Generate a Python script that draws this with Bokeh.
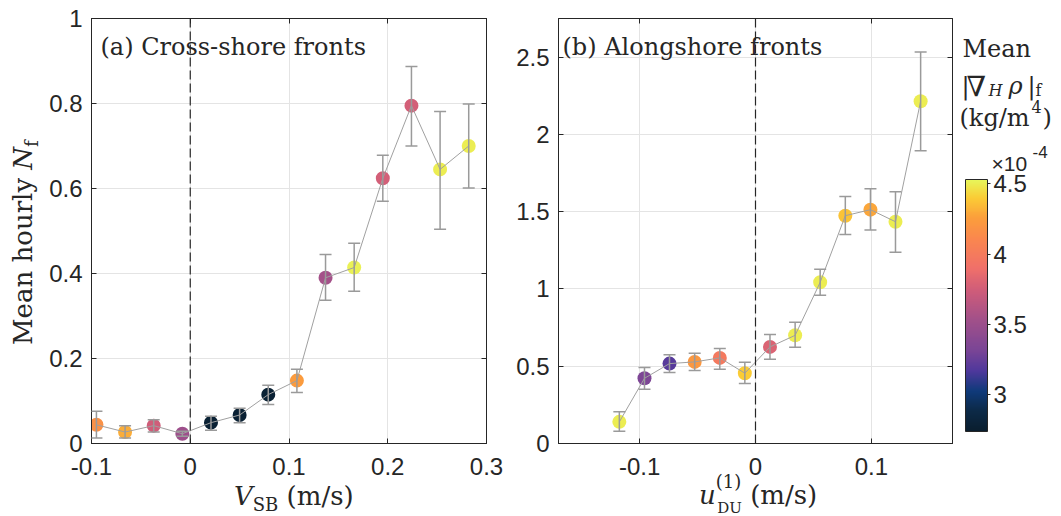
import numpy as np
from bokeh.plotting import figure
from bokeh.layouts import row
from bokeh.models import (ColumnDataSource, LinearColorMapper, Whisker, TeeHead, Span,
                          Label, LinearAxis, FixedTicker, ColorBar, Range1d, Div)
from bokeh.embed import file_html
from bokeh.resources import INLINE

# ---------------- data ----------------
# (a) cross-shore fronts, binned by V_SB (m/s)
vsb = [-0.095, -0.066, -0.037, -0.008, 0.021, 0.050, 0.079, 0.108, 0.137, 0.166, 0.195, 0.224, 0.253, 0.282]
nf_cross = [0.044, 0.027, 0.042, 0.023, 0.049, 0.067, 0.115, 0.148, 0.390, 0.414, 0.624, 0.795, 0.645, 0.700]
nf_cross_lo = [0.013, 0.013, 0.027, 0.017, 0.031, 0.049, 0.092, 0.120, 0.337, 0.358, 0.570, 0.700, 0.504, 0.601]
nf_cross_hi = [0.076, 0.042, 0.056, 0.029, 0.064, 0.083, 0.137, 0.175, 0.445, 0.471, 0.678, 0.887, 0.781, 0.799]
grad_cross = [4.17, 4.30, 3.74, 3.51, 2.78, 2.78, 2.78, 4.23, 3.55, 4.51, 3.76, 3.76, 4.50, 4.50]  # x1e-4 kg/m^4

# (b) alongshore fronts, binned by u_DU^(1) (m/s)
udu = [-0.1175, -0.0958, -0.0742, -0.0525, -0.0308, -0.0092, 0.0125, 0.0342, 0.0558, 0.0775, 0.0992, 0.1208, 0.1425]
nf_along = [0.140, 0.422, 0.517, 0.528, 0.554, 0.455, 0.625, 0.700, 1.043, 1.474, 1.513, 1.435, 2.215]
nf_along_lo = [0.080, 0.351, 0.459, 0.472, 0.480, 0.388, 0.545, 0.623, 0.959, 1.353, 1.381, 1.237, 1.894]
nf_along_hi = [0.205, 0.491, 0.575, 0.584, 0.614, 0.526, 0.705, 0.784, 1.127, 1.599, 1.648, 1.629, 2.534]
grad_along = [4.50, 3.33, 3.20, 4.21, 3.99, 4.40, 3.80, 4.50, 4.50, 4.37, 4.28, 4.50, 4.50]

xticks_a = [-0.1, 0, 0.1, 0.2, 0.3]
xtick_labels_a = ["-0.1", "0", "0.1", "0.2", "0.3"]
yticks_a = [0, 0.2, 0.4, 0.6, 0.8, 1]
ytick_labels_a = ["0", "0.2", "0.4", "0.6", "0.8", "1"]
xticks_b = [-0.1, 0, 0.1]
xtick_labels_b = ["-0.1", "0", "0.1"]
yticks_b = [0, 0.5, 1, 1.5, 2, 2.5]
ytick_labels_b = ["0", "0.5", "1", "1.5", "2", "2.5"]
cbar_ticks = [3, 3.5, 4, 4.5]
cbar_tick_labels = ["3", "3.5", "4", "4.5"]
cbar_low, cbar_high = 2.74, 4.53

# ---------------- styling ----------------
INK = "#262626"
SERIF = "DejaVu Serif"
SANS = "Liberation Sans"
TICK_PX = "24px"

# thermal-like colormap
anchors = [(0.00, "#0a1e2e"), (0.08, "#0c2a48"), (0.16, "#0f3a7a"), (0.24, "#4f389c"),
           (0.32, "#7a4596"), (0.44, "#a0508a"), (0.55, "#cc5b7b"), (0.65, "#f0706a"),
           (0.76, "#fa8650"), (0.85, "#fb9f3b"), (0.93, "#fbcc35"), (1.00, "#e8f65a")]
at = np.array([a[0] for a in anchors])
argb = np.array([[int(h[i:i + 2], 16) for i in (1, 3, 5)] for _, h in anchors], dtype=float)
tt = np.linspace(0, 1, 256)
palette = ["#%02x%02x%02x" % tuple(int(round(np.interp(t, at, argb[:, k]))) for k in range(3)) for t in tt]
mapper = LinearColorMapper(palette=palette, low=cbar_low, high=cbar_high)

H = 516
TOP, BOTTOM = 18, 73


def style_axes(p, xt, xl, yt, yl):
    for ax, t, lab in ((p.xaxis[0], xt, xl), (p.yaxis[0], yt, yl)):
        ax.ticker = FixedTicker(ticks=t)
        ax.major_label_overrides = {v: s for v, s in zip(t, lab)}
        ax.major_tick_in = 5
        ax.major_tick_out = 0
        ax.minor_tick_in = 0
        ax.minor_tick_out = 0
        ax.axis_line_color = INK
        ax.major_tick_line_color = INK
        ax.major_label_text_font = SANS
        ax.major_label_text_font_size = TICK_PX
        ax.major_label_text_color = INK
    p.xaxis[0].major_label_standoff = 14
    p.yaxis[0].major_label_standoff = 9
    # inward ticks on the opposite edges of the box
    for loc, t in (("right", yt), ("above", xt)):
        ax = LinearAxis(ticker=FixedTicker(ticks=t), major_tick_in=5, major_tick_out=0,
                        minor_tick_in=0, minor_tick_out=0, major_label_text_font_size="1px",
                        major_label_text_color=None, major_label_standoff=0,
                        axis_line_color=INK, major_tick_line_color=INK)
        p.add_layout(ax, loc)
    p.xgrid.ticker = FixedTicker(ticks=xt)
    p.ygrid.ticker = FixedTicker(ticks=yt)
    p.grid.grid_line_color = "#e4e4e4"
    p.grid.grid_line_width = 1
    p.outline_line_color = INK


def make_panel(x, y, lo, hi, c, xr, yr, width, bl, br):
    p = figure(width=width, height=H, x_range=xr, y_range=yr, toolbar_location=None,
               output_backend="svg", min_border_left=bl, min_border_right=br,
               min_border_top=TOP, min_border_bottom=BOTTOM)
    src = ColumnDataSource(dict(x=x, y=y, lo=lo, hi=hi, c=c))
    p.scatter("x", "y", source=src, size=14, line_color=None,
              fill_color={"field": "c", "transform": mapper})
    p.line("x", "y", source=src, line_color="#a0a0a0", line_width=1)
    p.add_layout(Whisker(source=src, base="x", lower="lo", upper="hi", level="annotation",
                         line_color="#9a9a9a", line_width=1.5,
                         lower_head=TeeHead(size=12, line_color="#9a9a9a", line_width=1.5),
                         upper_head=TeeHead(size=12, line_color="#9a9a9a", line_width=1.5)))
    p.add_layout(Span(location=0, dimension="height", line_color=INK, line_width=1.2,
                      line_dash="9 4"))
    return p


def texter(p, x0, x1, px0, px1, y0, y1, py0, py1):
    def fx(px):
        return x0 + (px - px0) * (x1 - x0) / (px1 - px0)

    def fy(py):
        return y0 + (py - py0) * (y1 - y0) / (py1 - py0)

    def put(px, py, text, size, style="normal", font=SERIF, angle=0.0, color=INK):
        p.add_layout(Label(x=fx(px), y=fy(py), text=text, text_font=font,
                           text_font_size=f"{size}px", text_font_style=style,
                           text_color=color, text_baseline="alphabetic", text_align="left",
                           angle=angle))
    return put


def html_text(html, left, top, size=26, rotate=False):
    styles = {"position": "absolute", "left": f"{left}px", "top": f"{top}px",
              "white-space": "nowrap", "font-family": SERIF, "font-size": f"{size}px",
              "color": INK, "overflow": "visible", "z-index": "10"}
    if rotate:
        styles["transform"] = "rotate(-90deg)"
        styles["transform-origin"] = "0 0"
    return Div(text=html, width=0, height=0, styles=styles)


# ---------------- panel (a) ----------------
pa = make_panel(vsb, nf_cross, nf_cross_lo, nf_cross_hi, grad_cross, (-0.1, 0.3), (0, 1),
                504, 91, 18)
style_axes(pa, xticks_a, xtick_labels_a, yticks_a, ytick_labels_a)
ta = texter(pa, -0.1, 0.3, 91, 486, 0, 1, 443, 18)
ta(100, 46, "(a) Cross-shore fronts", 24)

# ---------------- panel (b) ----------------
pb = make_panel(udu, nf_along, nf_along_lo, nf_along_hi, grad_along, (-0.17, 0.17), (0, 2.75),
                451, 54, 3)
style_axes(pb, xticks_b, xtick_labels_b, yticks_b, ytick_labels_b)
tb = texter(pb, -0.17, 0.17, 558, 952, 0, 2.75, 443, 18)
tb(562, 46, "(b) Alongshore fronts", 24)

# ---------------- colour bar ----------------
pc = figure(width=106, height=H, x_range=Range1d(955, 1061), y_range=Range1d(443, 18),
            toolbar_location=None, output_backend="svg", x_axis_location=None,
            y_axis_location=None, min_border_left=0, min_border_right=0,
            min_border_top=TOP, min_border_bottom=BOTTOM)
pc.grid.visible = False
pc.outline_line_color = None
cb = ColorBar(color_mapper=mapper, width=22, height=252, location=(10, 12), padding=0,
              margin=0, ticker=FixedTicker(ticks=cbar_ticks),
              major_label_overrides={v: s for v, s in zip(cbar_ticks, cbar_tick_labels)},
              major_tick_in=0, major_tick_out=3, minor_tick_in=0, minor_tick_out=0,
              major_tick_line_color=INK, bar_line_color=INK, border_line_color=None,
              background_fill_color=None, label_standoff=3,
              major_label_text_font=SANS, major_label_text_font_size=TICK_PX,
              major_label_text_color=INK)
pc.add_layout(cb)
tc = texter(pc, 955, 1061, 955, 1061, 443, 18, 443, 18)
tc(962, 48, "Mean", 24)
tc(961, 85, "|", 24)
tc(966, 86, "\u2207", 28)
tc(988, 90, "H", 16, "italic")
tc(1008, 85, "\u03c1", 24, "italic")
tc(1027, 85, "|", 24)
tc(1035, 90, "f", 16)
tc(959, 117, "(kg/m", 24)
tc(1031, 106, "4", 16)
tc(1042, 117, ")", 24)
tc(991, 163, "\u00d710", 21, font=SANS)
tc(1032, 151, "-4", 17, font=SANS)

# ---------------- axis titles ----------------
xlab_a = html_text('<i>V</i><sub style="font-size:18px">SB</sub>&nbsp;(m/s)', 229, 473)
xlab_b = html_text('<i>u</i>'
                   '<span style="position:relative;top:-16px;font-size:18px">(1)</span>'
                   '<span style="position:relative;top:9px;font-size:15px;margin-left:-24px">DU</span>'
                   '&nbsp;(m/s)', 694, 472)
ylab_a = html_text('Mean hourly <i>N</i><sub style="font-size:18px">f</sub>', 0, 340,
                   rotate=True)

layout = row(pa, pb, pc, xlab_a, ylab_a, xlab_b)
open("out.html", "w").write(file_html(layout, INLINE))
